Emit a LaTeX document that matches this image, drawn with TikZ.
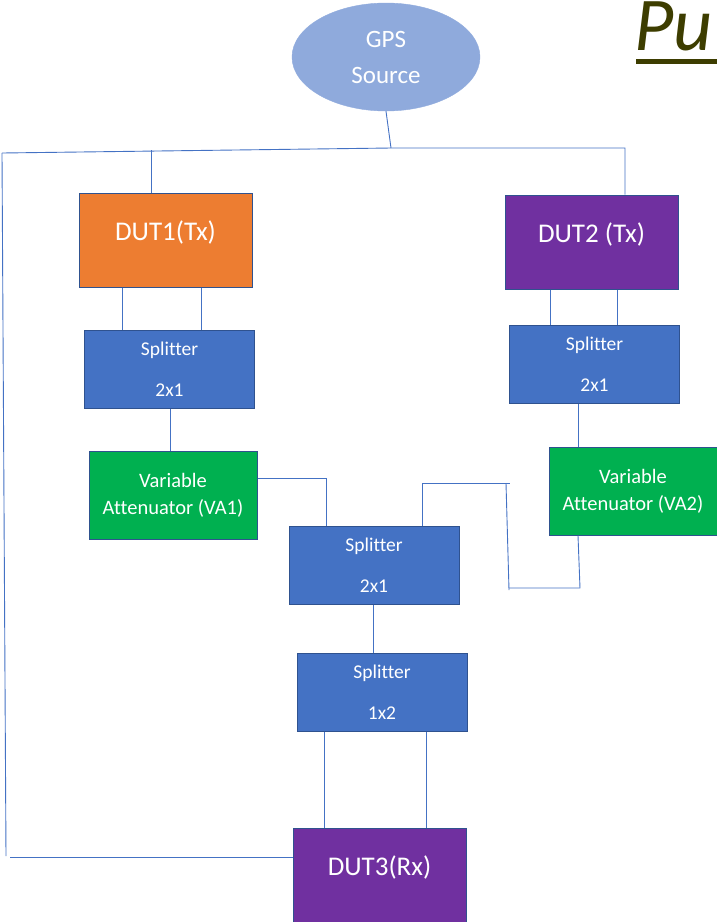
\documentclass[tikz,border=0pt]{standalone}
\usepackage{fontspec}
\setmainfont{Carlito}[Ligatures=NoCommon]
\usetikzlibrary{shapes.geometric}
\definecolor{cOrange}{HTML}{ED7D31}
\definecolor{cPurple}{HTML}{7030A0}
\definecolor{cBlue}{HTML}{4472C4}
\definecolor{cGreen}{HTML}{00B050}
\definecolor{cLight}{HTML}{8FAADC}
\definecolor{cEdge}{HTML}{2F528F}
\definecolor{cOlive}{HTML}{3D3D00}
\tikzset{
  boxbase/.style={rectangle, draw=cEdge, line width=1pt, text=white, align=center, inner sep=0pt},
  dutbox/.style={boxbase, minimum width=173pt, minimum height=94pt, font=\fontsize{27}{32}\selectfont, text height=21pt, text depth=20pt},
  splbox/.style={boxbase, fill=cBlue, minimum width=170pt, minimum height=78pt, font=\fontsize{19.5}{23}\selectfont},
  vabox/.style={boxbase, fill=cGreen, minimum width=168pt, minimum height=88pt, font=\fontsize{20.5}{27}\selectfont},
  wire/.style={draw=cBlue, line width=0.9pt},
}
\begin{document}
\begin{tikzpicture}[x=1pt,y=-1pt]
\useasboundingbox (0,0) rectangle (717,922);
% title fragment
\node[anchor=base west, inner sep=0pt, text=cOlive, font=\fontsize{76}{78}\selectfont\itshape] (title) at (634,50) {Pu};
\fill[cOlive] (636,59) rectangle (720,64);
% GPS
\node[ellipse, fill=cLight, draw=cLight, minimum width=188pt, minimum height=108pt, text=white, align=center, font=\fontsize{25}{36}\selectfont, inner sep=0pt, text depth=-13pt] (gps) at (386,57) {GPS\\Source};
% boxes
\node[dutbox, fill=cOrange] (dut1) at (165.5,240) {DUT1(Tx)};
\node[dutbox, fill=cPurple] (dut2) at (591.5,242) {DUT2 (Tx)};
\node[splbox] (spl1) at (169.5,369) {Splitter\\[18pt]2x1};
\node[splbox] (spl2) at (594.5,364) {Splitter\\[18pt]2x1};
\node[vabox] (va1) at (173,495) {Variable\\Attenuator (VA1)};
\node[vabox] (va2) at (633,491) {Variable\\Attenuator (VA2)};
\node[splbox] (spl3) at (374,565.5) {Splitter\\[18pt]2x1};
\node[splbox] (spl4) at (382,692.5) {Splitter\\[18pt]1x2};
\node[boxbase, fill=cPurple, minimum width=173pt, minimum height=108pt, font=\fontsize{27}{32}\selectfont, text height=21pt, text depth=34pt] (dut3) at (379.5,882) {DUT3(Rx)};
% coordinates
\coordinate (gj) at (391,148);
\coordinate (tl) at (2,153);
\coordinate (bl) at (6,856);
\coordinate (bl2) at (10,857);
\coordinate (tr) at (625,148);
\coordinate (x151) at (151,150);
\coordinate (x122) at (122,0);
\coordinate (x201) at (201,0);
\coordinate (x550) at (550,0);
\coordinate (x617) at (617,0);
\coordinate (x170) at (170,0);
\coordinate (x578) at (578,0);
\coordinate (x373) at (373,0);
\coordinate (x324) at (324,0);
\coordinate (x426) at (426,0);
\coordinate (m1) at (326,478);
\coordinate (x326) at (326,0);
\coordinate (x422) at (422,0);
\coordinate (m2) at (422,483);
\coordinate (m3) at (510,483);
\coordinate (m4) at (506,483);
\coordinate (m5) at (509,590);
\coordinate (m6) at (509,588);
\coordinate (m7) at (580,588);
\coordinate (m8) at (578,0);
% wires
\draw[wire] (gps.south) -- (gj);
\draw[wire] (tl) -- (gj) -- (tr) -- (tr |- dut2.north);
\draw[wire] (tl) -- (bl);
\draw[wire] (bl2) -- (bl2 -| dut3.west);
\draw[wire] (x151) -- (x151 |- dut1.north);
\draw[wire] (x122 |- dut1.south) -- (x122 |- spl1.north);
\draw[wire] (x201 |- dut1.south) -- (x201 |- spl1.north);
\draw[wire] (x550 |- dut2.south) -- (x550 |- spl2.north);
\draw[wire] (x617 |- dut2.south) -- (x617 |- spl2.north);
\draw[wire] (x170 |- spl1.south) -- (x170 |- va1.north);
\draw[wire] (x578 |- spl2.south) -- (x578 |- va2.north);
\draw[wire] (m1 -| va1.east) -- (m1) -- (x326 |- spl3.north);
\draw[wire] (x422 |- spl3.north) -- (m2) -- (m3);
\draw[wire] (m4) -- (m5);
\draw[wire] (m6) -- (m7) -- (m8 |- va2.south);
\draw[wire] (x373 |- spl3.south) -- (x373 |- spl4.north);
\draw[wire] (x324 |- spl4.south) -- (x324 |- dut3.north);
\draw[wire] (x426 |- spl4.south) -- (x426 |- dut3.north);
\end{tikzpicture}
\end{document}
